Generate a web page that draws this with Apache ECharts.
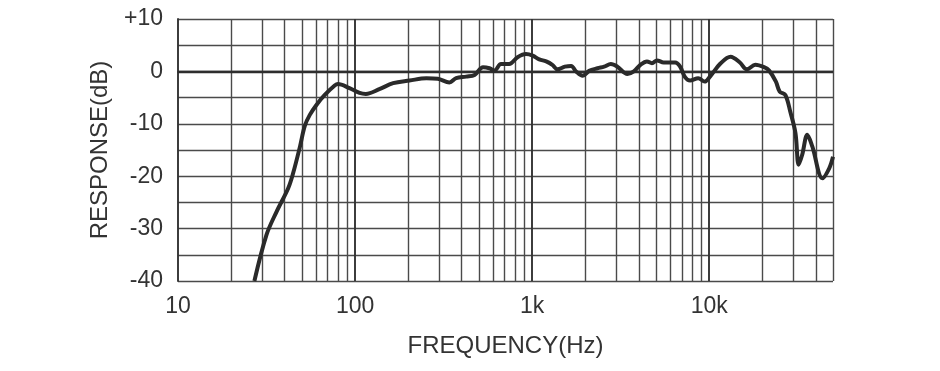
<!DOCTYPE html>
<html><head><meta charset="utf-8">
<script src="https://cdn.jsdelivr.net/npm/echarts@6/dist/echarts.min.js"></script>
<style>html,body{margin:0;padding:0;background:#fff}#c{width:940px;height:371px}</style>
</head><body><div id="c"></div>
<script>
var freqs = [27, 31.6, 36, 41.9, 44.7, 48.8, 52, 55.5, 60.5, 67.4, 76.7, 80, 93, 106, 115, 137, 164, 203, 253, 293, 341, 372, 424, 473, 528, 574, 612, 667, 742, 827, 923, 1007, 1097, 1200, 1300, 1390, 1530, 1660, 1770, 1930, 2100, 2340, 2550, 2780, 3030, 3450, 3750, 4100, 4450, 4750, 5070, 5530, 6420, 6850, 7300, 7790, 8660, 9430, 10100, 11600, 13200, 14900, 16300, 18220, 20400, 21800, 23800, 25000, 26900, 28700, 30700, 32000, 33500, 35800, 38200, 43600, 47600, 50000];
var responseDb = [-40, -31.2, -26.8, -22.3, -19.4, -14.4, -10.4, -8.3, -6.4, -4.5, -2.7, -2.4, -3.2, -4.1, -4.3, -3.4, -2.25, -1.75, -1.3, -1.4, -2.1, -1.3, -1.0, -0.67, 0.8, 0.6, 0.15, 1.4, 1.4, 2.7, 3.3, 3.0, 2.3, 1.9, 1.25, 0.4, 0.9, 1.05, 0, -0.85, 0.1, 0.6, 0.9, 1.4, 0.9, -0.5, 0, 1.3, 1.9, 1.55, 2.1, 1.7, 1.7, 0.9, -1.1, -1.75, -1.3, -1.95, -1.0, 1.55, 2.8, 1.7, 0.4, 1.25, 0.8, 0.15, -1.95, -3.85, -4.5, -7.7, -11.8, -17.8, -15.9, -12.1, -14.3, -20.4, -18.5, -16.3];
var minorFreqs = [20,30,40,50,60,70,80,90,200,300,400,500,600,700,800,900,2000,3000,4000,5000,6000,7000,8000,9000,20000,30000,40000,50000];
var decadeFreqs = [100, 1000, 10000];
var xTickLabels = {10:'10', 100:'100', 1000:'1k', 10000:'10k'};
var yTickLabels = {10:'+10', 0:'0', '-10':'-10', '-20':'-20', '-30':'-30', '-40':'-40'};

var data = freqs.map(function(f,i){return [f, responseDb[i]];});
var ml = [];
minorFreqs.forEach(function(f){ml.push({xAxis:f, lineStyle:{color:'#4a4a4a', width:1.4, type:'solid'}});});
decadeFreqs.forEach(function(f){ml.push({xAxis:f, lineStyle:{color:'#333', width:1.9, type:'solid'}});});
ml.push({yAxis:0, lineStyle:{color:'#2e2e2e', width:2.4, type:'solid'}});

var FONT = 'Liberation Sans';
var chart = echarts.init(document.getElementById('c'), null, {renderer:'canvas'});
chart.setOption({
  animation:false,
  grid:{left:178, right:107, top:19, bottom:90, containLabel:false},
  xAxis:{type:'log', logBase:10, min:10, max:50000,
    name:'FREQUENCY(Hz)', nameLocation:'middle', nameGap:53,
    nameTextStyle:{fontFamily:FONT, fontSize:24, color:'#333'},
    axisLine:{show:true, lineStyle:{color:'#333', width:1.9}},
    axisTick:{show:false},
    splitLine:{show:false},
    axisLabel:{fontFamily:FONT, fontSize:23, color:'#333', margin:14,
      formatter:function(v){return xTickLabels[v]||'';}}
  },
  yAxis:{type:'value', min:-40, max:10, interval:5,
    name:'RESPONSE(dB)', nameLocation:'middle', nameGap:66, nameRotate:90,
    nameTextStyle:{fontFamily:FONT, fontSize:24, color:'#333'},
    axisLine:{show:true, lineStyle:{color:'#333', width:1.9}},
    axisTick:{show:false},
    splitLine:{show:true, lineStyle:{color:'#4a4a4a', width:1.4}},
    axisLabel:{fontFamily:FONT, fontSize:23, color:'#333', margin:15,
      formatter:function(v){return yTickLabels[v]!==undefined?yTickLabels[v]:'';}}
  },
  series:[{type:'line', data:data, smooth:0.35, showSymbol:false, symbol:'none',
    lineStyle:{color:'#2a2a2a', width:4}, z:5,
    markLine:{silent:true, symbol:['none','none'], label:{show:false}, animation:false, data:ml, z:1}
  }]
});
</script></body></html>
